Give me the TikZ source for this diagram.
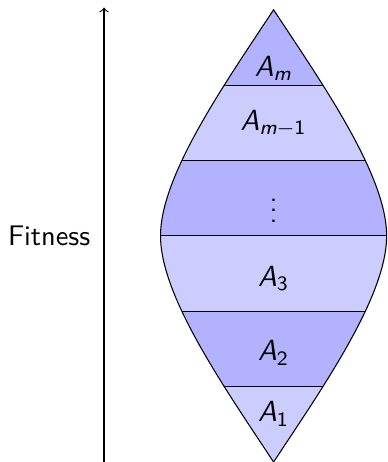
\documentclass[tikz,border=0pt]{standalone}
\usepackage{amsmath}
\usetikzlibrary{positioning}
\renewcommand{\familydefault}{\sfdefault}
\tikzset{
banddark/.style={fill=blue!30},
bandlight/.style={fill=blue!20},
bandlabel/.style={font=\fontsize{11pt}{13pt}\selectfont},
fitarr/.style={->},
fitlabel/.style={font=\fontsize{10.7pt}{13pt}\selectfont}
}
\newcommand{\lensoutline}{(0,3) .. controls (-0.66,2) and (-1.5,0.8) .. (-1.5,0)
  .. controls (-1.5,-0.8) and (-0.66,-2) .. (0,-3)
  .. controls (0.66,-2) and (1.5,-0.8) .. (1.5,0)
  .. controls (1.5,0.8) and (0.66,2) .. cycle}
\newcommand{\sfi}[1]{\textit{#1}}

\begin{document}
\begin{tikzpicture}
\useasboundingbox (-3.63,-3.0) rectangle (1.51,3.13);
% bands, clipped to the lens
\begin{scope}
\clip \lensoutline;
\fill[banddark] (-2,2) rectangle (2,3.2);
\fill[bandlight] (-2,1) rectangle (2,2);
\fill[banddark] (-2,0) rectangle (2,1);
\fill[bandlight] (-2,-1) rectangle (2,0);
\fill[banddark] (-2,-2) rectangle (2,-1);
\fill[bandlight] (-2,-3.2) rectangle (2,-2);
\foreach \y in {-2,...,2}
  \draw (-2,\y) -- (2,\y);
\end{scope}
\draw \lensoutline;
\node[bandlabel] (am) at (0,2.22) {$\sfi{A}_{\sfi{m}}$};
\node[bandlabel] (amm) at (0,1.49) {$\sfi{A}_{\sfi{m}-\textup{1}}$};
\node[bandlabel] (dots) at (0,0.44) {$\vdots$};
\node[bandlabel] (athree) at (0,-0.57) {$\sfi{A}_{\textup{3}}$};
\node[bandlabel] (atwo) at (0,-1.55) {$\sfi{A}_{\textup{2}}$};
\node[bandlabel] (aone) at (0,-2.36) {$\sfi{A}_{\textup{1}}$};
% fitness axis
\coordinate (fitbot) at (-2.25,-3.1);
\coordinate (fittop) at (-2.25,3.03);
\coordinate (fitmid) at (-2.25,0);
\draw[fitarr] (fitbot) -- (fittop);
\node[fitlabel,left=0.06cm of fitmid] (fit) {Fitness};
\end{tikzpicture}
\end{document}
